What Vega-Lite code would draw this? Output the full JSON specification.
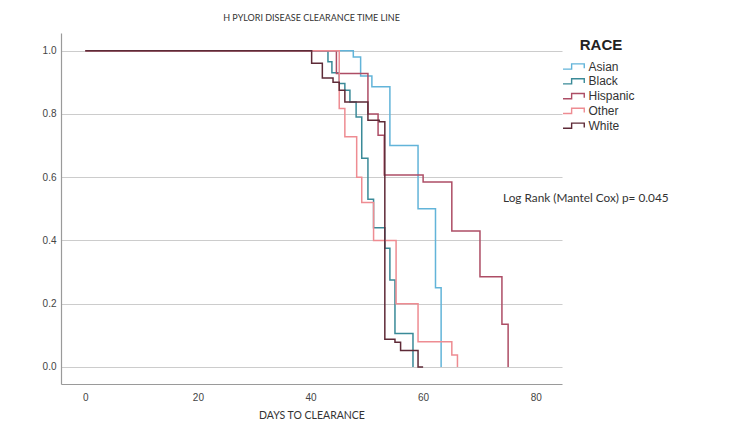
{
  "$schema": "https://vega.github.io/schema/vega-lite/v6.json",
  "width": 501,
  "height": 351,
  "autosize": {"type": "none"},
  "padding": {"left": 61, "top": 33, "right": 188, "bottom": 58},
  "background": "white",
  "title": {"text": "H PYLORI DISEASE CLEARANCE TIME LINE", "fontSize": 9, "font": "Lato", "fontWeight": "normal", "color": "#333333", "offset": 10, "anchor": "middle"},
  "config": {
    "view": {"stroke": null},
    "axis": {"domainColor": "#9a9a9a", "domainWidth": 1.2, "ticks": false, "labelFont": "Liberation Sans", "labelFontSize": 10, "labelColor": "#444444", "titleFont": "Lato", "titleFontSize": 10.5, "titleFontWeight": "normal", "titleColor": "#333333", "gridColor": "#cccccc", "gridWidth": 1.2}
  },
  "data": {"values": [
    {"race": "Asian", "day": 0, "s": 1},
    {"race": "Asian", "day": 47.6, "s": 0.98},
    {"race": "Asian", "day": 48.9, "s": 0.92},
    {"race": "Asian", "day": 50.9, "s": 0.886},
    {"race": "Asian", "day": 54.1, "s": 0.70},
    {"race": "Asian", "day": 59.1, "s": 0.50},
    {"race": "Asian", "day": 62.2, "s": 0.25},
    {"race": "Asian", "day": 63.2, "s": 0},
    {"race": "Black", "day": 0, "s": 1},
    {"race": "Black", "day": 43.1, "s": 0.965},
    {"race": "Black", "day": 43.8, "s": 0.93},
    {"race": "Black", "day": 45.1, "s": 0.896},
    {"race": "Black", "day": 46.1, "s": 0.875},
    {"race": "Black", "day": 47.0, "s": 0.838},
    {"race": "Black", "day": 48.1, "s": 0.79},
    {"race": "Black", "day": 49.1, "s": 0.66},
    {"race": "Black", "day": 50.2, "s": 0.53},
    {"race": "Black", "day": 51.2, "s": 0.44},
    {"race": "Black", "day": 53.2, "s": 0.375},
    {"race": "Black", "day": 54.1, "s": 0.275},
    {"race": "Black", "day": 55.0, "s": 0.106},
    {"race": "Black", "day": 58.2, "s": 0},
    {"race": "Hispanic", "day": 0, "s": 1},
    {"race": "Hispanic", "day": 44.6, "s": 0.928},
    {"race": "Hispanic", "day": 50.2, "s": 0.80},
    {"race": "Hispanic", "day": 52.0, "s": 0.733},
    {"race": "Hispanic", "day": 53.1, "s": 0.607},
    {"race": "Hispanic", "day": 60.0, "s": 0.585},
    {"race": "Hispanic", "day": 65.1, "s": 0.43},
    {"race": "Hispanic", "day": 70.1, "s": 0.285},
    {"race": "Hispanic", "day": 74.0, "s": 0.135},
    {"race": "Hispanic", "day": 75.1, "s": 0},
    {"race": "Other", "day": 0, "s": 1},
    {"race": "Other", "day": 45.1, "s": 0.817},
    {"race": "Other", "day": 46.1, "s": 0.728},
    {"race": "Other", "day": 48.2, "s": 0.60},
    {"race": "Other", "day": 49.1, "s": 0.52},
    {"race": "Other", "day": 51.2, "s": 0.40},
    {"race": "Other", "day": 55.2, "s": 0.20},
    {"race": "Other", "day": 59.1, "s": 0.08},
    {"race": "Other", "day": 65.1, "s": 0.038},
    {"race": "Other", "day": 66.1, "s": 0},
    {"race": "White", "day": 0, "s": 1},
    {"race": "White", "day": 40.2, "s": 0.96},
    {"race": "White", "day": 42.1, "s": 0.914},
    {"race": "White", "day": 44.0, "s": 0.90},
    {"race": "White", "day": 45.1, "s": 0.875},
    {"race": "White", "day": 46.1, "s": 0.838},
    {"race": "White", "day": 50.2, "s": 0.78},
    {"race": "White", "day": 52.2, "s": 0.775},
    {"race": "White", "day": 53.2, "s": 0.0875},
    {"race": "White", "day": 55.0, "s": 0.078},
    {"race": "White", "day": 56.0, "s": 0.052},
    {"race": "White", "day": 59.1, "s": 0},
    {"race": "White", "day": 60.0, "s": 0}
  ]},
  "layer": [
    {
      "mark": {"type": "line", "interpolate": "step-after", "strokeWidth": 1.5},
      "encoding": {
        "x": {"field": "day", "type": "quantitative", "scale": {"domain": [-4.32, 84.67], "nice": false, "zero": false},
              "axis": {"values": [0, 20, 40, 60, 80], "grid": false, "title": "DAYS TO CLEARANCE", "labelPadding": 8, "titlePadding": 8}},
        "y": {"field": "s", "type": "quantitative", "scale": {"domain": [-0.054, 1.056], "nice": false, "zero": false},
              "axis": {"values": [0, 0.2, 0.4, 0.6, 0.8, 1.0], "format": ".1f", "grid": true, "title": null, "labelPadding": 5}},
        "color": {"field": "race", "type": "nominal",
                  "scale": {"domain": ["Asian", "Black", "Hispanic", "Other", "White"], "range": ["#62b4d9", "#3a8a98", "#ad4d65", "#ee8c92", "#5e2a37"]},
                  "legend": {"title": "RACE", "orient": "none", "legendX": 507, "legendY": 5, "padding": 0,
                             "titleFont": "Liberation Sans", "titleFontSize": 15, "titleFontWeight": "bold", "titleColor": "#222222", "titleAnchor": "middle", "titlePadding": 7,
                             "labelFont": "Liberation Sans", "labelFontSize": 12, "labelColor": "#333333", "labelOffset": 7.5,
                             "symbolType": "M-2,0.45 H-0.5 V-0.45 H1.7 V0.3", "symbolSize": 132, "symbolStrokeWidth": 1.4, "symbolFillColor": "transparent", "rowPadding": 1.8}}
      }
    },
    {
      "data": {"values": [{"note": "Log Rank (Mantel Cox) p= 0.045"}]},
      "mark": {"type": "text", "align": "left", "baseline": "middle", "font": "Lato", "fontSize": 11.8, "color": "#333333"},
      "encoding": {
        "x": {"datum": 74.2},
        "y": {"datum": 0.534},
        "text": {"field": "note"}
      }
    }
  ]
}
